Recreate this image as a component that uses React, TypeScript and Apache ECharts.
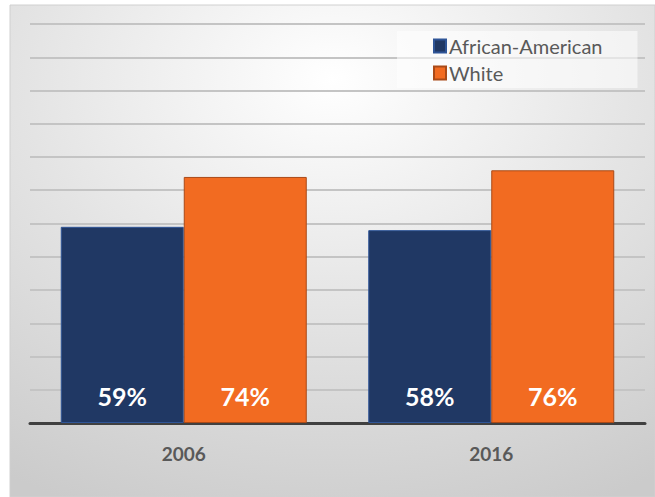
import React, { useEffect, useRef } from "react";
import * as echarts from "echarts";

const categories = ["2006", "2016"];
const seriesNames = ["African-American", "White"];
const africanAmerican = [59, 58];
const white = [74, 76];

export default function App() {
  const ref = useRef<HTMLDivElement>(null);
  useEffect(() => {
    if (!ref.current) return;
    const chart = echarts.init(ref.current, null, { renderer: "svg" });
    const font = "Lato, 'Open Sans', sans-serif";
    const label = {
      show: true,
      position: "insideBottom" as const,
      distance: 15,
      formatter: "{c}%",
      color: "#ffffff",
      fontSize: 25,
      fontWeight: "bold" as const,
      fontFamily: font,
    };
    chart.setOption({
      animation: false,
      graphic: [
        {
          type: "rect",
          z: -10,
          silent: true,
          shape: { x: 10, y: 5, width: 645, height: 492 },
          style: {
            fill: {
              type: "radial",
              x: 0.5,
              y: 0.15,
              r: 0.95,
              colorStops: [
                { offset: 0, color: "#ffffff" },
                { offset: 0.5, color: "#e4e4e4" },
                { offset: 1, color: "#cbcbcb" },
              ],
            },
            stroke: "#d0d0d0",
            lineWidth: 1,
          },
        },
      ],
      legend: {
        orient: "vertical",
        left: 397,
        top: 31,
        padding: [5, 35, 5, 36],
        icon: "rect",
        itemWidth: 12,
        itemHeight: 13,
        itemGap: 7,
        backgroundColor: "rgba(255,255,255,0.55)",
        textStyle: { fontSize: 20, color: "#595959", fontFamily: font, padding: [0, 0, 0, -2] },
        data: seriesNames,
      },
      grid: { left: 30, right: 10, top: 24, bottom: 74 },
      xAxis: {
        type: "category",
        data: categories,
        axisLine: { lineStyle: { color: "#404040", width: 3 } },
        axisTick: { show: false },
        axisLabel: { fontSize: 19, fontWeight: "bold", color: "#595959", margin: 21, fontFamily: font },
      },
      yAxis: {
        type: "value",
        min: 0,
        max: 120,
        interval: 10,
        axisLabel: { show: false },
        axisLine: { show: false },
        axisTick: { show: false },
        splitLine: { lineStyle: { color: "#c4c4c4", width: 2 } },
      },
      series: [
        {
          name: seriesNames[0],
          type: "bar",
          data: africanAmerican,
          barGap: "0%",
          barCategoryGap: "20%",
          itemStyle: { color: "#203864", borderColor: "#2f5597", borderWidth: 1 },
          label,
        },
        {
          name: seriesNames[1],
          type: "bar",
          data: white,
          barGap: "0%",
          barCategoryGap: "20%",
          itemStyle: { color: "#f26b21", borderColor: "#a94a18", borderWidth: 1 },
          label,
        },
      ],
    });
    return () => chart.dispose();
  }, []);
  return (
    <div
      ref={ref}
      style={{ position: "absolute", left: 0, top: 0, width: 655, height: 497 }}
    />
  );
}
